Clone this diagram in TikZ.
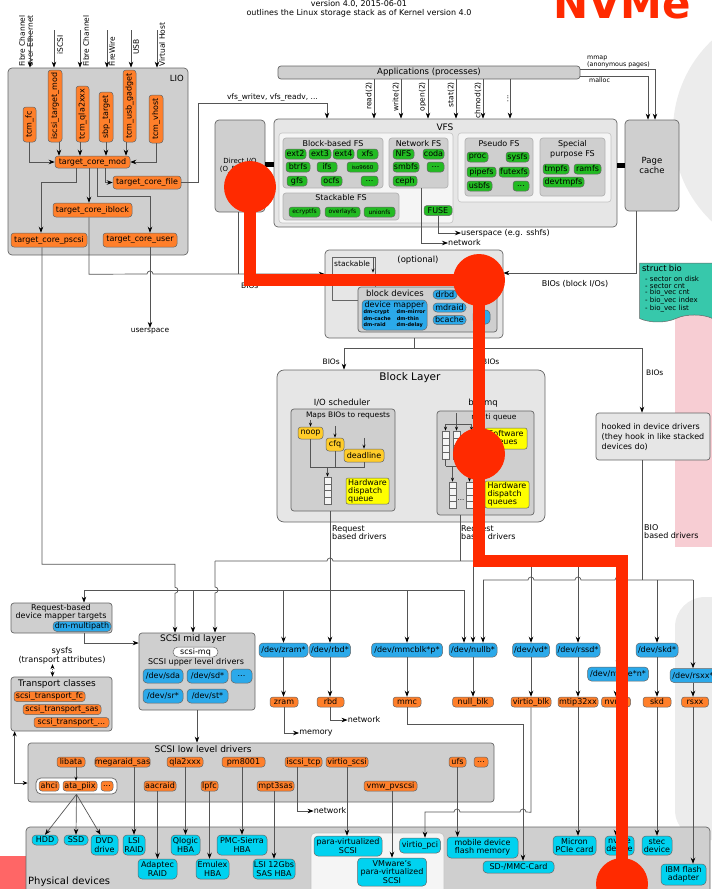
\documentclass[tikz,border=0pt]{standalone}
\usepackage{fontspec}
\setmainfont{DejaVu Sans}
\usepackage{graphicx}
\usetikzlibrary{
  arrows.meta,
  positioning,
  calc,
  shapes.symbols
}
\definecolor{lsOrange}{HTML}{FF7F2A}
\definecolor{lsGreen}{HTML}{22BB22}
\definecolor{lsBlue}{HTML}{2BA9EA}
\definecolor{lsCyan}{HTML}{00D2F0}
\definecolor{lsGold}{HTML}{FFCC2A}
\definecolor{lsYellow}{HTML}{FFFF00}
\definecolor{lsDark}{HTML}{CFCFCF}
\definecolor{lsLight}{HTML}{E6E6E6}
\definecolor{lsPanel}{HTML}{F5F5F5}
\definecolor{lsEdge}{HTML}{666666}
\definecolor{lsLine}{HTML}{555555}
\definecolor{lsRed}{HTML}{FF2A00}
\definecolor{lsTeal}{HTML}{37C8AB}
\definecolor{lsPink}{HTML}{F7CDD3}
\definecolor{lsFog}{HTML}{ECECEC}
\definecolor{lsSalmon}{HTML}{FF6666}
\tikzset{
  lsbox/.style={draw=lsEdge, line width=0.7pt, rounded corners=4pt, inner sep=0pt},
  layerbox/.style={lsbox, fill=lsLight},
  groupbox/.style={lsbox, fill=lsDark},
  fsgroup/.style={groupbox, draw=lsEdge!50, rounded corners=3pt},
  panelbox/.style={draw=lsEdge!40, line width=0.6pt, rounded corners=3pt, fill=lsPanel, inner sep=0pt},
  pill/.style={draw=lsEdge, line width=0.5pt, rounded corners=3pt, inner sep=0pt, font=\fontsize{8}{8}\selectfont},
  drvnode/.style={pill, fill=lsOrange, minimum height=10pt},
  fsnode/.style={pill, fill=lsGreen, minimum height=10pt},
  devnode/.style={pill, fill=lsBlue, minimum height=14pt, rounded corners=4pt},
  hwnode/.style={pill, fill=lsCyan, rounded corners=4pt, align=center, font=\fontsize{8}{8.5}\selectfont},
  schednode/.style={pill, fill=lsGold, minimum height=12pt},
  queuenode/.style={pill, fill=lsYellow, align=left, rounded corners=2pt},
  stackq/.style={draw=lsEdge, fill=lsPanel, line width=0.5pt, minimum width=7pt, inner sep=0pt,
    path picture={\foreach \k in {1,2,3}
      \draw[lsEdge, line width=0.4pt]
        ($(path picture bounding box.north west)!\k/4!(path picture bounding box.south west)$) --
        ($(path picture bounding box.north east)!\k/4!(path picture bounding box.south east)$);}},
  boxtitle/.style={inner sep=0pt, font=\fontsize{8}{9}\selectfont, align=center},
  lbl/.style={inner sep=0pt, font=\fontsize{7.5}{8}\selectfont},
  conn/.style={draw=lsLine, line width=0.7pt},
  arr/.style={conn, -{Stealth[length=6pt, width=4.5pt, color=black]}},
  sarr/.style={conn, -{Stealth[length=4pt, width=3pt, color=black]}},
  darr/.style={conn, {Stealth[length=5pt, width=4pt, color=black]}-{Stealth[length=5pt, width=4pt, color=black]}},
  thickbar/.style={line width=5pt, black},
  hit/.style={circle, fill=lsRed, minimum size=52pt, inner sep=0pt},
  redpath/.style={draw=lsRed, line width=12pt, line join=miter}
}

\begin{document}
\begin{tikzpicture}[x=1pt, y=-1pt]
  \useasboundingbox (0,0) rectangle (712,889);
  % faded marks behind the stack
  \fill[lsFog] (798,131) circle[radius=125pt];
  \fill[lsFog, rounded corners=30pt] (675,597) rectangle (760,840);
  \fill[lsPink] (675,280) rectangle (712,547);
  \fill[lsSalmon] (0,856) rectangle (40,889);

  \node[lbl, font=\fontsize{8}{8.5}\selectfont, align=center] (header) at (359,9)
    {version 4.0, 2015-06-01\\outlines the Linux storage stack as of Kernel version 4.0};
  \node[inner sep=0pt, anchor=base, text=lsRed, font=\fontsize{42}{42}\selectfont\bfseries] (nvmetitle) at (622,18) {NVMe};

  % LIO
  \node[groupbox, minimum width=180pt, minimum height=187pt] (lio) at (98,161.5) {};
  \node[boxtitle, font=\fontsize{8.5}{9}\selectfont, anchor=east] (liotitle) at (184,78) {LIO};
  \coordinate (lioin1) at (30,30);
  \coordinate (lioin2) at (54,30);
  \coordinate (lioin3) at (80,30);
  \coordinate (lioin4) at (107,30);
  \coordinate (lioin5) at (131,30);
  \coordinate (lioin6) at (157,30);
  \node[lbl, rotate=90, anchor=north west, align=left] (liolbl1) at (19,67) {Fibre Channel\\over Ethernet};
  \node[lbl, rotate=90, anchor=north west] (liolbl2) at (57,55) {iSCSI};
  \node[lbl, rotate=90, anchor=north west] (liolbl3) at (83,67) {Fibre Channel};
  \node[lbl, rotate=90, anchor=north west] (liolbl4) at (109,67) {FireWire};
  \node[lbl, rotate=90, anchor=north west] (liolbl5) at (133,55) {USB};
  \node[lbl, rotate=90, anchor=north west] (liolbl6) at (159,67) {Virtual Host};
  \node[drvnode, minimum width=13pt, minimum height=35pt] (tcmfc) at (29.5,124.5) {\rotatebox{90}{tcm\_fc}};
  \node[drvnode, minimum width=14pt, minimum height=72pt] (iscsitgt) at (55,106) {\rotatebox{90}{iscsi\_target\_mod}};
  \node[drvnode, minimum width=13pt, minimum height=56pt] (tcmqla) at (82.5,114) {\rotatebox{90}{tcm\_qla2xxx}};
  \node[drvnode, minimum width=14pt, minimum height=50pt] (sbptgt) at (106,117) {\rotatebox{90}{sbp\_target}};
  \node[drvnode, minimum width=13pt, minimum height=72pt] (tcmusb) at (129.5,106) {\rotatebox{90}{tcm\_usb\_gadget}};
  \node[drvnode, minimum width=14pt, minimum height=48pt] (tcmvhost) at (156,119) {\rotatebox{90}{tcm\_vhost}};
  \node[drvnode, minimum width=75pt, minimum height=12pt] (tcmod) at (92.5,162) {target\_core\_mod};
  \node[drvnode, minimum width=68pt, minimum height=13pt] (tcfile) at (147,182.5) {target\_core\_file};
  \node[drvnode, minimum width=79pt, minimum height=14pt] (tciblock) at (92.5,210) {target\_core\_iblock};
  \node[drvnode, minimum width=76pt, minimum height=14pt] (tcpscsi) at (49,240) {target\_core\_pscsi};
  \node[drvnode, minimum width=74pt, minimum height=14pt] (tcuser) at (140,240) {target\_core\_user};
  \node[lbl] (usp) at (150,331) {userspace};

  % VFS level
  \node[groupbox, minimum width=50pt, minimum height=92pt, align=center, font=\fontsize{7}{8}\selectfont] (dio) at (240,166) {Direct I/O\\(O\_DIRECT)};
  \node[groupbox, rounded corners=3pt, minimum width=302pt, minimum height=13pt, font=\fontsize{8.5}{9}\selectfont] (apps) at (429,72.5) {Applications (processes)};
  \node[layerbox, minimum width=343pt, minimum height=108pt] (vfs) at (445.5,173) {};
  \node[boxtitle, font=\fontsize{9}{9}\selectfont] (vfstitle) at (445,127) {VFS};
  \node[panelbox, minimum width=174pt, minimum height=90pt] (vfsleft) at (366,178) {};
  \node[panelbox, minimum width=153pt, minimum height=69pt] (vfsright) at (534.5,167.5) {};
  \node[fsgroup, minimum width=100pt, minimum height=50pt] (bbfs) at (333,163) {};
  \node[fsgroup, minimum width=59pt, minimum height=50pt] (netfs) at (418.5,163) {};
  \node[fsgroup, minimum width=116pt, minimum height=27pt] (stkfs) at (341,206.5) {};
  \node[fsgroup, minimum width=68pt, minimum height=58pt] (pseudofs) at (499,167) {};
  \node[fsgroup, minimum width=65pt, minimum height=58pt] (specfs) at (572.5,167) {};
  \node[boxtitle] (bbfstitle) at (333,144) {Block-based FS};
  \node[boxtitle] (netfstitle) at (418.5,144) {Network FS};
  \node[boxtitle] (stkfstitle) at (341,198) {Stackable FS};
  \node[boxtitle] (pseudotitle) at (499,143.5) {Pseudo FS};
  \node[boxtitle, font=\fontsize{8}{10}\selectfont] (spectitle) at (572.5,149) {Special\\purpose FS};
  \node[fsnode, minimum width=21pt] (ext2) at (295.5,154) {ext2};
  \node[fsnode, minimum width=22pt] (ext3) at (320,154) {ext3};
  \node[fsnode, minimum width=21pt] (ext4) at (343.5,154) {ext4};
  \node[fsnode, minimum width=21pt] (xfs) at (367.5,154) {xfs};
  \node[fsnode, minimum width=24pt] (btrfs) at (298,167) {btrfs};
  \node[fsnode, minimum width=20pt] (ifs) at (327,167) {ifs};
  \node[fsnode, minimum width=31pt, font=\fontsize{5.5}{6}\selectfont] (iso) at (362.5,167) {iso9660};
  \node[fsnode, minimum width=20pt] (gfs) at (297,181) {gfs};
  \node[fsnode, minimum width=21pt] (ocfs) at (331.5,181) {ocfs};
  \node[fsnode, minimum width=17pt] (bbdots) at (369.5,181) {...};
  \node[fsnode, minimum width=21pt] (nfs) at (403.5,154) {NFS};
  \node[fsnode, minimum width=21pt] (coda) at (433.5,154) {coda};
  \node[fsnode, minimum width=26pt] (smbfs) at (406,167) {smbfs};
  \node[fsnode, minimum width=17pt] (netdots) at (435.5,167) {...};
  \node[fsnode, minimum width=24pt] (ceph) at (405,181) {ceph};
  \node[fsnode, minimum width=31pt, font=\fontsize{6}{6}\selectfont] (ecryptfs) at (304.5,212) {ecryptfs};
  \node[fsnode, minimum width=35pt, font=\fontsize{6}{6}\selectfont] (overlayfs) at (342.5,212) {overlayfs};
  \node[fsnode, minimum width=31pt, font=\fontsize{6}{6}\selectfont] (unionfs) at (379.5,212) {unionfs};
  \node[fsnode, minimum width=28pt] (fuse) at (438,210.5) {FUSE};
  \node[fsnode, minimum width=21pt] (proc) at (477.5,157) {proc};
  \node[fsnode, minimum width=23pt] (sysfsnode) at (517.5,157) {sysfs};
  \node[fsnode, minimum width=29pt] (pipefs) at (481.5,172) {pipefs};
  \node[fsnode, minimum width=30pt] (futexfs) at (514,172) {futexfs};
  \node[fsnode, minimum width=25pt] (usbfs) at (479.5,186) {usbfs};
  \node[fsnode, minimum width=16pt] (psdots) at (521,186) {...};
  \node[fsnode, minimum width=26pt] (tmpfs) at (556,169) {tmpfs};
  \node[fsnode, minimum width=27pt] (ramfs) at (587.5,169) {ramfs};
  \node[fsnode, minimum width=41pt] (devtmpfs) at (563.5,182) {devtmpfs};
  \node[groupbox, minimum width=54pt, minimum height=91pt, align=center, font=\fontsize{8.5}{10}\selectfont] (pcache) at (652,165.5) {Page\\cache};
  \node[lbl, anchor=south west, align=left, font=\fontsize{6.3}{7}\selectfont] (mmaplbl) at (587,68) {mmap\\(anonymous pages)};
  \node[lbl, anchor=north west, font=\fontsize{6.3}{7}\selectfont] (malloclbl) at (589,77.5) {malloc};
  \node[lbl, rotate=90, anchor=south east] (readlbl) at (372.5,82) {read(2)};
  \node[lbl, rotate=90, anchor=south east] (writelbl) at (399.5,82) {write(2)};
  \node[lbl, rotate=90, anchor=south east] (openlbl) at (426.5,82) {open(2)};
  \node[lbl, rotate=90, anchor=south east] (statlbl) at (454.5,82) {stat(2)};
  \node[lbl, rotate=90, anchor=south east] (chmodlbl) at (481.5,82) {chmod(2)};
  \node[lbl, rotate=90, anchor=south east] (morelbl) at (508.5,95) {...};
  \node[lbl, anchor=south east] (vfswlbl) at (318,101) {vfs\_writev, vfs\_readv, ...};
  \node[lbl, font=\fontsize{8}{8}\selectfont, anchor=west] (fuselbl) at (461,233) {userspace (e.g. sshfs)};
  \node[lbl, font=\fontsize{8}{8}\selectfont, anchor=west] (netlbl0) at (448,243) {network};

  % stacked block devices
  \node[layerbox, minimum width=178pt, minimum height=88pt] (optbox) at (414,294) {};
  \node[boxtitle, font=\fontsize{8.5}{9}\selectfont] (opttitle) at (418,260) {(optional)};
  \node[draw=lsEdge, line width=0.6pt, minimum width=43pt, minimum height=43pt, inner sep=0pt] (stk) at (353.5,278.5) {};
  \node[lbl, anchor=west] (stklbl) at (334,263.5) {stackable};
  \node[groupbox, rounded corners=3pt, minimum width=139pt, minimum height=45pt] (blkdev) at (427.5,309.5) {};
  \node[boxtitle, font=\fontsize{8.5}{9}\selectfont] (blkdevtitle) at (395,293) {block devices};
  \node[devnode, minimum width=65pt, minimum height=30pt, align=center] (devmapper) at (394.5,315)
    {device mapper\\[-1pt]{\fontsize{5}{6.6}\selectfont\bfseries\begin{tabular}{@{}l@{\hspace{6pt}}l@{}}dm-crypt&dm-mirror\\dm-cache&dm-thin\\dm-raid&dm-delay\end{tabular}}};
  \node[devnode, minimum width=24pt, minimum height=9pt] (drbd) at (445,294.5) {drbd};
  \node[devnode, minimum width=33pt, minimum height=9pt] (mdraid) at (449.5,307.5) {mdraid};
  \node[devnode, minimum width=33pt, minimum height=9pt] (bcache) at (449.5,320) {bcache};
  \node[devnode, minimum width=17pt, minimum height=14pt] (bdots) at (481.5,317) {...};
  \node[lbl, anchor=west] (bioslbl0) at (241,286) {BIOs};
  \node[lbl, font=\fontsize{8}{8}\selectfont] (bioblk) at (575,284) {BIOs (block I/Os)};
  \node[tape, tape bend top=none, tape bend height=7pt, draw=lsEdge, line width=0.5pt, fill=lsTeal,
    minimum width=73pt, minimum height=56pt, inner sep=2.5pt, text width=68pt, align=left,
    font=\fontsize{7}{6.8}\selectfont] (bionote) at (676,289)
    {{\fontsize{8.5}{9}\selectfont struct bio}\\[2.5pt]
     \hspace*{3pt}- sector on disk\\\hspace*{3pt}- sector cnt\\\hspace*{3pt}- bio\_vec cnt\\
     \hspace*{3pt}- bio\_vec index\\\hspace*{3pt}- bio\_vec list};

  % block layer
  \node[layerbox, rounded corners=7pt, minimum width=268pt, minimum height=152pt] (blockl) at (411,446) {};
  \node[boxtitle, font=\fontsize{10.5}{11}\selectfont] (blockltitle) at (410,377.5) {Block Layer};
  \node[boxtitle, font=\fontsize{8.5}{9}\selectfont] (ioschedlbl) at (342,403) {I/O scheduler};
  \node[groupbox, rounded corners=3pt, minimum width=104pt, minimum height=102pt] (iosched) at (343,460) {};
  \node[boxtitle, font=\fontsize{7.5}{8}\selectfont] (iosmaps) at (348,415.5) {Maps BIOs to requests};
  \node[schednode, minimum width=25pt] (noop) at (310.5,433) {noop};
  \node[schednode, minimum width=18pt, minimum height=13pt] (cfq) at (335,444.5) {cfq};
  \node[schednode, minimum width=40pt, minimum height=13pt] (deadline) at (364,455.5) {deadline};
  \node[stackq, minimum height=27pt] (iosq) at (327.5,490.5) {};
  \node[queuenode, minimum width=43pt, minimum height=26pt] (iohwq) at (367.5,491) {Hardware\\dispatch\\queue};
  \node[boxtitle, font=\fontsize{8.5}{9}\selectfont] (blkmqlbl) at (483,403) {blk-mq};
  \node[groupbox, rounded corners=3pt, minimum width=97pt, minimum height=104pt] (mq) at (485.5,463) {};
  \node[boxtitle, font=\fontsize{7.5}{8}\selectfont] (mqtitle) at (494,417) {multi queue};
  \node[queuenode, minimum width=42pt, minimum height=21pt] (mqswq) at (506,438.5) {Software\\queues};
  \node[queuenode, minimum width=44pt, minimum height=27pt] (mqhwq) at (507,494.5) {Hardware\\dispatch\\queues};
  \node[stackq, minimum height=28pt] (mqa) at (445.5,445) {};
  \node[stackq, minimum height=28pt] (mqb) at (456.5,445) {};
  \node[stackq, minimum height=28pt] (mqc) at (471.5,445) {};
  \node[stackq, minimum height=26pt] (mqd) at (452.5,495) {};
  \node[stackq, minimum height=26pt] (mqe) at (469.5,495) {};
  \node[lbl, font=\fontsize{7}{7}\selectfont] (mqdots) at (461,500) {...};
  \node[layerbox, rounded corners=3pt, minimum width=114pt, minimum height=47pt, align=left, font=\fontsize{8}{10}\selectfont] (hooked) at (653,436.5)
    {hooked in device drivers\\(they hook in like stacked\\devices do)};
  \node[lbl, anchor=east] (bioslbl1) at (340,362) {BIOs};
  \node[lbl, anchor=west] (bioslbl2) at (482,362) {BIOs};
  \node[lbl, anchor=west] (bioslbl3) at (646,373) {BIOs};
  \node[lbl, anchor=north west, align=left, font=\fontsize{8}{8}\selectfont] (rqlbl1) at (332,525.5) {Request\\based drivers};
  \node[lbl, anchor=north west, align=left, font=\fontsize{8}{8}\selectfont] (rqlbl2) at (461,525.5) {Request\\based drivers};
  \node[lbl, anchor=north west, align=left, font=\fontsize{8}{8}\selectfont] (biolbl) at (644,524.5) {BIO\\based drivers};

  % SCSI side
  \node[groupbox, rounded corners=3pt, minimum width=101pt, minimum height=30pt] (dmtgt) at (61.5,618) {};
  \node[boxtitle, font=\fontsize{8}{8}\selectfont] (dmtgttitle) at (61,612) {Request-based\\device mapper targets};
  \node[devnode, minimum width=58pt, minimum height=10pt] (dmmp) at (82,626.5) {dm-multipath};
  \node[lbl, align=center, font=\fontsize{8.2}{7.2}\selectfont] (sysfs) at (62,655.5) {sysfs\\(transport attributes)};
  \node[groupbox, rounded corners=3pt, minimum width=101pt, minimum height=54pt] (transport) at (61.5,704) {};
  \node[boxtitle, font=\fontsize{9}{9}\selectfont] (transporttitle) at (57,684) {Transport classes};
  \node[drvnode, minimum width=71pt] (stfc) at (49.5,696.5) {scsi\_transport\_fc};
  \node[drvnode, minimum width=78pt] (stsas) at (62,709.5) {scsi\_transport\_sas};
  \node[drvnode, minimum width=75pt] (stetc) at (71.5,722.5) {scsi\_transport\_...};
  \node[groupbox, rounded corners=3pt, minimum width=116pt, minimum height=77pt] (scsimid) at (197,671.5) {};
  \node[boxtitle, font=\fontsize{9}{9}\selectfont] (scsimidtitle) at (193,639) {SCSI mid layer};
  \node[pill, fill=white, minimum width=45pt, minimum height=10pt, rounded corners=5pt] (scsimq) at (195.5,652) {scsi-mq};
  \node[lbl, font=\fontsize{8}{8}\selectfont] (upperlbl) at (196,662.5) {SCSI upper level drivers};
  \node[devnode, minimum width=40pt] (devsda) at (163,676) {/dev/sda};
  \node[devnode, minimum width=41pt] (devsd) at (207.5,676) {/dev/sd*};
  \node[devnode, minimum width=21pt] (devdots) at (241.5,676) {...};
  \node[devnode, minimum width=40pt] (devsr) at (163,696) {/dev/sr*};
  \node[devnode, minimum width=41pt] (devst) at (207.5,696) {/dev/st*};

  % block devices and drivers
  \node[devnode, minimum width=49pt] (devzram) at (283.5,650) {/dev/zram*};
  \node[devnode, minimum width=41pt] (devrbd) at (330,650) {/dev/rbd*};
  \node[devnode, minimum width=71pt] (devmmc) at (407,650) {/dev/mmcblk*p*};
  \node[devnode, minimum width=48pt] (devnullb) at (473,650) {/dev/nullb*};
  \node[devnode, minimum width=37pt] (devvd) at (531,650) {/dev/vd*};
  \node[devnode, minimum width=44pt] (devrssd) at (578,650) {/dev/rssd*};
  \node[devnode, minimum width=61pt] (devnvme) at (618,674) {/dev/nvme*n*};
  \node[devnode, minimum width=42pt] (devskd) at (657,650) {/dev/skd*};
  \node[devnode, minimum width=46pt] (devrsxx) at (693,675.5) {/dev/rsxx*};
  \node[drvnode, minimum width=28pt] (zram) at (284,702) {zram};
  \node[drvnode, minimum width=27pt] (rbd) at (330.5,702) {rbd};
  \node[drvnode, minimum width=28pt] (mmc) at (407,702) {mmc};
  \node[drvnode, minimum width=41pt] (nullblk) at (473,702) {null\_blk};
  \node[drvnode, minimum width=40pt] (virtioblk) at (531,702) {virtio\_blk};
  \node[drvnode, minimum width=40pt] (mtip) at (578,702) {mtip32xx};
  \node[drvnode, minimum width=29pt] (nvme) at (616,702) {nvme};
  \node[drvnode, minimum width=28pt] (skd) at (657,702) {skd};
  \node[drvnode, minimum width=27pt] (rsxx) at (695,702) {rsxx};
  \node[lbl, font=\fontsize{8}{8}\selectfont] (memlbl) at (316,733) {memory};
  \node[lbl, font=\fontsize{8}{8}\selectfont] (netlbl1) at (364,720) {network};

  % SCSI low level drivers
  \node[groupbox, rounded corners=3pt, minimum width=466pt, minimum height=59pt] (scsilow) at (261,772.5) {};
  \node[boxtitle, font=\fontsize{9}{9}\selectfont] (scsilowtitle) at (203,749) {SCSI low level drivers};
  \node[drvnode, minimum width=28pt] (libata) at (71,762) {libata};
  \node[drvnode, minimum width=55pt] (megaraid) at (122.5,762) {megaraid\_sas};
  \node[drvnode, minimum width=36pt] (qla2xxx) at (185,762) {qla2xxx};
  \node[drvnode, minimum width=43pt] (pm8001) at (243.5,762) {pm8001};
  \node[drvnode, minimum width=37pt] (iscsitcp) at (303.5,762) {iscsi\_tcp};
  \node[drvnode, minimum width=42pt] (virtioscsi) at (347,762) {virtio\_scsi};
  \node[drvnode, minimum width=17pt] (ufs) at (457.5,762) {ufs};
  \node[drvnode, minimum width=14pt] (lldots) at (481,762) {...};
  \node[lsbox, fill=white, rounded corners=5pt, minimum width=81pt, minimum height=16pt] (atagrp) at (76.5,786) {};
  \node[drvnode, minimum width=20pt] (ahci) at (49,786) {ahci};
  \node[drvnode, minimum width=34pt] (atapiix) at (80,786) {ata\_piix};
  \node[drvnode, minimum width=12pt] (atadots) at (107,786) {...};
  \node[drvnode, minimum width=32pt] (aacraid) at (160,786) {aacraid};
  \node[drvnode, minimum width=17pt] (lpfc) at (209.5,786) {lpfc};
  \node[drvnode, minimum width=37pt] (mpt3sas) at (275.5,786) {mpt3sas};
  \node[drvnode, minimum width=53pt] (vmwpv) at (390.5,786) {vmw\_pvscsi};
  \node[lbl, font=\fontsize{8}{8}\selectfont] (netlbl2) at (330,811) {network};

  % physical devices
  \node[groupbox, minimum width=684pt, minimum height=72pt] (phys) at (368,863) {};
  \node[lbl, anchor=west, font=\fontsize{10}{10}\selectfont] (physlbl) at (28,882) {Physical devices};
  \node[panelbox, rounded corners=4pt, minimum width=133pt, minimum height=62pt] (virtpanel) at (377.5,864) {};
  \node[hwnode, minimum width=26pt, minimum height=10pt] (hdd) at (45,840) {HDD};
  \node[hwnode, minimum width=24pt, minimum height=10pt] (ssd) at (76,840) {SSD};
  \node[hwnode, minimum width=27pt, minimum height=20pt] (dvd) at (104.5,845) {DVD\\drive};
  \node[hwnode, minimum width=22pt, minimum height=20pt] (lsiraid) at (134,845) {LSI\\RAID};
  \node[hwnode, minimum width=29pt, minimum height=20pt] (qlogic) at (185.5,845) {Qlogic\\HBA};
  \node[hwnode, minimum width=50pt, minimum height=20pt] (pmc) at (242,845) {PMC-Sierra\\HBA};
  \node[hwnode, minimum width=39pt, minimum height=20pt] (adaptec) at (157.5,869) {Adaptec\\RAID};
  \node[hwnode, minimum width=33pt, minimum height=20pt] (emulex) at (212.5,869) {Emulex\\HBA};
  \node[hwnode, minimum width=42pt, minimum height=20pt] (lsisas) at (274,869) {LSI 12Gbs\\SAS HBA};
  \node[hwnode, minimum width=68pt, minimum height=20pt] (pvscsi) at (348,846) {para-virtualized\\SCSI};
  \node[hwnode, minimum width=41pt, minimum height=15pt] (virtiopci) at (420,845.5) {virtio\_pci};
  \node[hwnode, minimum width=69pt, minimum height=28pt] (vmware) at (392,872) {VMware's\\para-virtualized\\SCSI};
  \node[hwnode, minimum width=71pt, minimum height=21pt] (mobflash) at (482.5,847.5) {mobile device\\flash memory};
  \node[hwnode, minimum width=71pt, minimum height=12pt] (sdcard) at (518.5,867) {SD-/MMC-Card};
  \node[hwnode, minimum width=43pt, minimum height=19pt] (micron) at (574.5,845.5) {Micron\\PCIe card};
  \node[hwnode, minimum width=29pt, minimum height=19pt] (nvmedev) at (619.5,845.5) {nvme\\device};
  \node[hwnode, minimum width=30pt, minimum height=19pt] (stec) at (657,845.5) {stec\\device};
  \node[hwnode, minimum width=45pt, minimum height=21pt] (ibm) at (683.5,874.5) {IBM flash\\adapter};

  % connectors: LIO
  \draw[arr] (lioin1) -- (lioin1 |- lio.north);
  \draw[arr] (lioin2) -- (lioin2 |- lio.north);
  \draw[arr] (lioin3) -- (lioin3 |- lio.north);
  \draw[arr] (lioin4) -- (lioin4 |- lio.north);
  \draw[arr] (lioin5) -- (lioin5 |- lio.north);
  \draw[arr] (lioin6) -- (lioin6 |- lio.north);
  \draw[arr] (tcmfc.south) |- (tcmod.west);
  \draw[arr] (tcmvhost.south) |- (tcmod.east);
  \draw[arr] ([xshift=4pt]iscsitgt.south) -- ([xshift=4pt]iscsitgt.south |- tcmod.north);
  \draw[arr] ([xshift=-2.5pt]tcmqla.south) -- ([xshift=-2.5pt]tcmqla.south |- tcmod.north);
  \draw[arr] (sbptgt.south) -- (sbptgt.south |- tcmod.north);
  \draw[arr] ([xshift=-3.5pt]tcmusb.south) -- ([xshift=-3.5pt]tcmusb.south |- tcmod.north);
  \draw[arr] ([xshift=-16.5pt]tcmod.south) -- ++(0,14) -| ([xshift=-8pt]tcpscsi.north);
  \draw[arr] ([xshift=-3.5pt]tcmod.south) -- ([xshift=-3.5pt]tcmod.south |- tciblock.north);
  \draw[arr] ([xshift=4.5pt]tcmod.south) -- ++(0,28) -| ([xshift=10pt]tcuser.north);
  \draw[arr] ([xshift=12.5pt]tcmod.south) |- (tcfile.west);
  \coordinate (vfsin) at (327,103);
  \draw[arr] (tcfile.east) -- ++(17,0) |- (vfsin) -- (vfsin |- vfs.north);
  \draw[arr] ([xshift=10pt]tcuser.south) -- (usp.north);
  \draw[conn] ([xshift=-2pt]dio.south) -- ++(0,62);
  \draw[conn] ([xshift=4pt]dio.south) -- ++(0,62);
  \draw[arr] ([xshift=-3.5pt]tciblock.south) -- ++(0,57) -- (147,274)
    arc[start angle=180, end angle=0, radius=3pt] -- ([yshift=20pt]optbox.west);

  % connectors: VFS
  \draw[thickbar] ([yshift=1.5pt]dio.east) -- ([yshift=1.5pt]dio.east -| vfs.west);
  \draw[thickbar] (vfs.east |- pcache.west) -- (pcache.west);
  \draw[arr] ([xshift=-55pt]apps.south) -- ([xshift=-55pt]apps.south |- vfs.north);
  \draw[arr] ([xshift=-28pt]apps.south) -- ([xshift=-28pt]apps.south |- vfs.north);
  \draw[arr] ([xshift=-1pt]apps.south) -- ([xshift=-1pt]apps.south |- vfs.north);
  \draw[arr] ([xshift=27pt]apps.south) -- ([xshift=27pt]apps.south |- vfs.north);
  \draw[arr] ([xshift=54pt]apps.south) -- ([xshift=54pt]apps.south |- vfs.north);
  \draw[arr] ([xshift=81pt]apps.south) -- ([xshift=81pt]apps.south |- vfs.north);
  \draw[arr] ([yshift=3.5pt]apps.east) -| ([xshift=3pt]pcache.north);
  \draw[arr] ([yshift=-3.5pt]apps.east) -| ([xshift=-4pt]pcache.north);
  \draw[arr] (fuse.south) |- (fuselbl.west);
  \draw[arr] ([xshift=2.5pt]netfs.south) |- (netlbl0.west);
  \draw[arr] ([xshift=-16pt]pcache.south) |- ([yshift=21pt]optbox.east);
  \draw[sarr] ([xshift=19.5pt]stk.north) -- ++(0,16);

  % connectors: block layer
  \draw[conn] (optbox.south) -- ++(0,10) coordinate (bsplit);
  \draw[arr] (bsplit) -| ([xshift=-67pt]blockl.north);
  \draw[arr] (bsplit) -| ([xshift=68pt]blockl.north);
  \draw[arr] (bsplit) -| ([xshift=-11pt]hooked.north);
  \draw[sarr] ([yshift=7pt]noop.north) -- (noop.north);
  \draw[sarr] ([yshift=12pt]cfq.north) -- (cfq.north);
  \draw[sarr] ([yshift=11pt]deadline.north) -- (deadline.north);
  \coordinate (qmerge) at (327.5,467);
  \draw[conn] (noop.south) |- (deadline.south |- qmerge) -- (deadline.south);
  \draw[conn] (cfq.south) -- (cfq.south |- qmerge);
  \draw[sarr] (qmerge) -- (iosq.north);
  \coordinate (mqin) at (456.5,413);
  \draw[conn] (mqin) -- ++(0,11) coordinate (mqsplit);
  \draw[conn] (mqsplit -| mqa.north) -- (mqsplit -| mqc.north);
  \draw[sarr] (mqsplit -| mqa.north) -- (mqa.north);
  \draw[sarr] (mqsplit) -- (mqb.north);
  \draw[sarr] (mqsplit -| mqc.north) -- (mqc.north);
  \coordinate (mqjoin) at (452.5,466);
  \draw[conn] (mqa.south) -- (mqa.south |- mqjoin);
  \draw[conn] (mqb.south) -- (mqb.south |- mqjoin);
  \draw[conn] (mqc.south) -- (mqc.south |- mqjoin);
  \draw[conn] (mqa.south |- mqjoin) -- (mqc.south |- mqjoin);
  \draw[sarr] (mqjoin) -- (mqd.north);
  \draw[sarr] (mqjoin -| mqe.north) -- (mqe.north);

  % connectors: request based and BIO based drivers
  \coordinate (busL) at (84,590);
  \coordinate (busR) at (464,590);
  \coordinate (rqL) at (215,561);
  \coordinate (rqR) at (618,561);
  \coordinate (bioL) at (483,580);
  \coordinate (bioR) at (693,580);
  \draw[arr] ([xshift=-13pt]iosched.south) -- (devrbd.north);
  \draw[conn] (busL) -- (busR);
  \draw[arr] (busL) -- ([xshift=22.5pt]dmtgt.north);
  \draw[arr] ([xshift=-4pt]scsimid.north |- busL) -- ([xshift=-4pt]scsimid.north);
  \draw[arr] (devzram.north |- busL) -- (devzram.north);
  \draw[arr] (devmmc.north |- busL) -- (devmmc.north);
  \draw[arr] (busR) -- ([xshift=-9pt]devnullb.north);
  \draw[arr] ([xshift=-7pt]tcpscsi.south) -- ++(0,317) -- ++(133,0) -- ++(0,23)
    arc[start angle=90, end angle=-90, radius=3pt] -- ([xshift=-22pt]scsimid.north);
  \draw[conn] ([xshift=-25.5pt]mq.south) -- ++(0,46);
  \draw[conn] (rqL) -- (327,561) arc[start angle=180, end angle=0, radius=3pt] -- (rqR);
  \draw[arr] (rqL) -- (215,587) arc[start angle=90, end angle=-90, radius=3pt] -- ([xshift=18pt]scsimid.north);
  \draw[arr] (devnullb.north |- rqL) -- (devnullb.north);
  \draw[arr] (devvd.north |- rqL) -- (devvd.north);
  \draw[arr] (devrssd.north |- rqL) -- (devrssd.north);
  \draw[arr] (devnvme.north |- rqL) -- (devnvme.north);
  \draw[conn] ([xshift=-11pt]hooked.south) -- ([xshift=-11pt]hooked.south |- bioL);
  \draw[conn] (bioL) -- (528,580) arc[start angle=180, end angle=0, radius=3pt]
    -- (575,580) arc[start angle=180, end angle=0, radius=3pt]
    -- (615,580) arc[start angle=180, end angle=0, radius=3pt] -- (bioR);
  \draw[arr] (bioL) -- ([xshift=10pt]devnullb.north);
  \draw[arr] (devskd.north |- bioL) -- (devskd.north);
  \draw[arr] (bioR) -- (devrsxx.north);

  % connectors: devices to drivers
  \draw[arr] (devzram.south) -- (devzram.south |- zram.north);
  \draw[arr] (devrbd.south) -- (devrbd.south |- rbd.north);
  \draw[arr] (devmmc.south) -- (devmmc.south |- mmc.north);
  \draw[arr] (devnullb.south) -- (devnullb.south |- nullblk.north);
  \draw[arr] (devvd.south) -- (devvd.south |- virtioblk.north);
  \draw[arr] (devrssd.south) -- (devrssd.south |- mtip.north);
  \draw[arr] (nvme.north |- devnvme.south) -- (nvme.north);
  \draw[arr] (devskd.south) -- (devskd.south |- skd.north);
  \draw[arr] (devrsxx.south) -- (devrsxx.south |- rsxx.north);
  \draw[arr] (zram.south) |- (memlbl.west);
  \draw[arr] (rbd.south) |- (netlbl1.west);
  \draw[arr] (mmc.south) -- ++(0,17) -| ([xshift=4.5pt]sdcard.north);
  \draw[arr] (virtioblk.south) -- ++(0,105) -- (526,812) arc[start angle=0, end angle=180, radius=3pt]
    -- (460,812) arc[start angle=0, end angle=180, radius=3pt] -| ([xshift=5pt]virtiopci.north);
  \draw[arr] (ufs.south) -- (ufs.south |- mobflash.north);
  \draw[arr] (mtip.south) -- (mtip.south |- micron.north);
  \draw[arr] (nvme.south) -- (nvme.south |- nvmedev.north);
  \draw[arr] (skd.south) -- (skd.south |- stec.north);
  \draw[arr] ([xshift=-2pt]rsxx.south) -- ([xshift=-2pt]rsxx.south |- ibm.north);

  % connectors: SCSI
  \draw[arr] ([xshift=22.5pt]dmtgt.south) |- ([yshift=28.5pt]scsimid.west);
  \draw[darr, densely dotted] ([xshift=-9.5pt]sysfs.south) -- ([xshift=-9.5pt]sysfs.south |- transport.north);
  \draw[darr] ([xshift=4pt]transport.south west) |- ([yshift=-10.5pt]scsilow.west);
  \draw[arr] (scsimid.south) -- (scsimid.south |- scsilow.north);
  \draw[sarr] ([xshift=5pt]libata.south) -- ([xshift=5pt]libata.south |- atapiix.north);
  \draw[arr] (atagrp.south) -- (hdd.north);
  \draw[arr] (atagrp.south) -- (ssd.north);
  \draw[arr] (atagrp.south) -- ([xshift=-4pt]dvd.north);
  \draw[arr] (lsiraid.north |- megaraid.south) -- (lsiraid.north);
  \draw[arr] (qlogic.north |- qla2xxx.south) -- (qlogic.north);
  \draw[arr] (adaptec.north |- aacraid.south) -- (adaptec.north);
  \draw[arr] (lpfc.south) -- (lpfc.south |- emulex.north);
  \draw[arr] (pmc.north |- pm8001.south) -- (pmc.north);
  \draw[arr] (lsisas.north |- mpt3sas.south) -- (lsisas.north);
  \draw[arr] ([xshift=-6.5pt]iscsitcp.south) |- (netlbl2.west);
  \draw[arr] (virtioscsi.south) -- (virtioscsi.south |- pvscsi.north);
  \draw[arr] (vmware.north |- vmwpv.south) -- (vmware.north);

  % NVMe path
  \node[hit] (hit1) at (250,187) {};
  \node[hit] (hit2) at (479,280) {};
  \node[hit] (hit3) at (479,454) {};
  \node[hit] (hit4) at (622,884) {};
  \coordinate (redbend) at (622,561);
  \draw[redpath] (hit1.center) |- (hit2.center) -- (hit3.center) -- (hit3.center |- redbend) -- (redbend) -- (hit4.center);
\end{tikzpicture}
\end{document}
